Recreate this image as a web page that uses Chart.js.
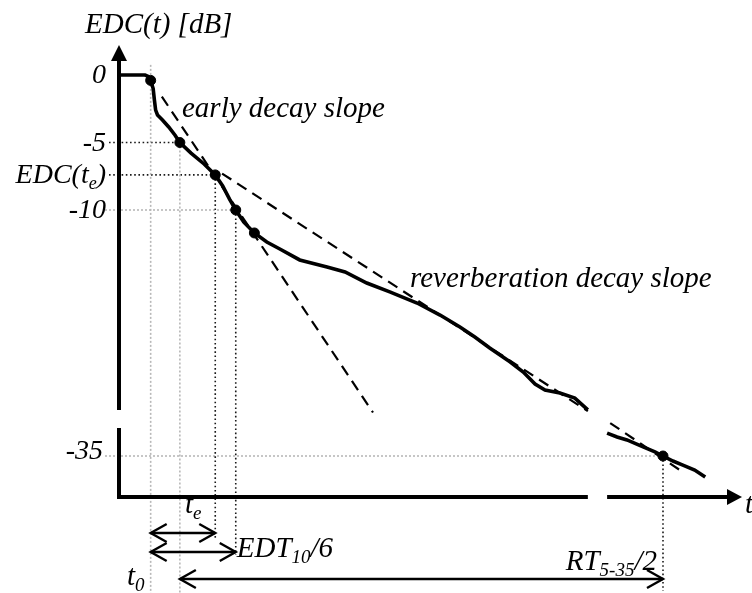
<!DOCTYPE html>
<html><head><meta charset="utf-8">
<script src="https://cdn.jsdelivr.net/npm/chart.js@4.4.1/dist/chart.umd.min.js"></script>
<style>html,body{margin:0;padding:0;background:#fff;overflow:hidden}canvas{display:block}</style>
</head><body>
<canvas id="c" width="752" height="593"></canvas>
<script>
// ---- data (time in ms, level in dB) ----
const t0 = 51, tMinus5 = 98, tE = 155, tEdt = 188, tMinus35 = 876;
const breakT = [755, 786];                       // hidden part of the time axis
const curveT  = [0, 42, 47, t0, 55, 57, 59, 62, 70, 80, 90, tMinus5, 116, 137, tE, 167, 178, tEdt, 201, 218, 238, 259, 291, 335, 364, 399, 436, 480, 517, 549, 573, 597, 630, 651, 670, 686, 710, 734, 755];
const curveDb = [0, 0, -0.1, -0.4, -1.0, -1.85, -2.6, -2.96, -3.33, -3.85, -4.44, -5, -5.78, -6.59, -7.4, -8.22, -9.19, -10, -10.9, -11.7, -12.37, -12.89, -13.7, -14.22, -14.59, -15.41, -16.07, -16.89, -17.78, -18.67, -19.41, -20.22, -21.26, -22.0, -22.89, -23.33, -23.56, -23.93, -24.81];
const tailT  = [786, 802, 818, 844, 863, tMinus35, 892, 908, 927, 944];
const tailDb = [-33.3, -33.59, -33.81, -34.33, -34.7, -35, -35.37, -35.67, -36.04, -36.56];
const earlyFitT  = [69, 409];
const earlyFitDb = [-1.6, -25.0];
const reverbFitT  = [166, 755];
const reverbFitDb = [-7.3, -24.9];
const reverbTailFitT  = [791, 908];
const reverbTailFitDb = [-32.56, -36.19];
const markT  = [t0, tMinus5, tE, tEdt, 218];
const markDb = [-0.4, -5, -7.4, -10, -11.7];
const tailMarkT  = [tMinus35];
const tailMarkDb = [-35];
const upperTicks = [0, -5, -7.4, -10];
const upperTickLabels = [[['0',0]], [['-5',0]], [['EDC(t',0],['e',1],[')',0]], [['-10',0]]];
const lowerTicks = [-35];
const lowerTickLabels = [[['-35',0]]];

const pts = (xs, ys) => xs.map((x, i) => ({x, y: ys[i]}));
const SERIF = '"Liberation Serif", "Times New Roman", serif';
const fnt = s => `italic ${s}px ${SERIF}`;

function drawRich(ctx, parts, x, y, size, align) {
  const sub = Math.round(size * 0.64);
  let w = 0;
  const ws = parts.map(p => { ctx.font = fnt(p[1] ? sub : size); const m = ctx.measureText(p[0]).width; w += m; return m; });
  let cx = align === 'right' ? x - w : align === 'center' ? x - w / 2 : x;
  parts.forEach((p, i) => {
    ctx.font = fnt(p[1] ? sub : size);
    ctx.fillText(p[0], cx, p[1] ? y + size * 0.2 : y);
    cx += ws[i];
  });
}

const DARK = '#1a1a1a', LIGHT = '#b8b8b8';

const decor = {
  id: 'decor',
  beforeDatasetsDraw(chart) {
    const ctx = chart.ctx, x = chart.scales.x, yU = chart.scales.y, yL = chart.scales.y2, ca = chart.chartArea;
    const seg = (x1, y1, x2, y2, col, dash) => {
      ctx.save(); ctx.strokeStyle = col; ctx.lineWidth = 1.6; ctx.setLineDash(dash);
      ctx.beginPath(); ctx.moveTo(x1, y1); ctx.lineTo(x2, y2); ctx.stroke(); ctx.restore();
    };
    const dk = [1.6, 2.6], lt = [2, 2];
    // horizontal guides
    seg(ca.left - 10, yU.getPixelForValue(-5), x.getPixelForValue(tMinus5), yU.getPixelForValue(-5), DARK, dk);
    seg(ca.left - 10, yU.getPixelForValue(-7.4), x.getPixelForValue(tE), yU.getPixelForValue(-7.4), DARK, dk);
    seg(ca.left - 14, yU.getPixelForValue(-10), x.getPixelForValue(tEdt), yU.getPixelForValue(-10), LIGHT, lt);
    seg(ca.left - 14, yL.getPixelForValue(-35), x.getPixelForValue(tMinus35), yL.getPixelForValue(-35), LIGHT, lt);
    // vertical guides
    const v = (t, yTop, yBot, col, dash) => { const px = x.getPixelForValue(t); seg(px, yTop, px, yBot, col, dash); };
    v(t0, yU.getPixelForValue(0.75), 593, LIGHT, lt);
    v(tMinus5, yU.getPixelForValue(-5), 593, LIGHT, lt);
    v(tE, yU.getPixelForValue(-7.4), ca.bottom + 42, DARK, dk);
    v(tEdt, yU.getPixelForValue(-10), ca.bottom + 58, DARK, dk);
    v(tMinus35, yL.getPixelForValue(-35), 591, DARK, dk);
  },
  afterDatasetsDraw(chart) {
    const ctx = chart.ctx, x = chart.scales.x, yU = chart.scales.y, yL = chart.scales.y2, ca = chart.chartArea;
    ctx.save();
    ctx.strokeStyle = '#000'; ctx.fillStyle = '#000'; ctx.lineWidth = 4;
    const line = (a, b, c, d) => { ctx.beginPath(); ctx.moveTo(a, b); ctx.lineTo(c, d); ctx.stroke(); };
    const L = ca.left, B = ca.bottom, T = ca.top;
    line(L, T + 12, L, yU.bottom - 10);
    line(L, yL.top + 8, L, B + 2);
    line(L - 2, B, x.getPixelForValue(breakT[0]), B);
    line(x.getPixelForValue(breakT[1]), B, ca.right - 10, B);
    ctx.beginPath(); ctx.moveTo(L, T); ctx.lineTo(L - 8, T + 16); ctx.lineTo(L + 8, T + 16); ctx.closePath(); ctx.fill();
    ctx.beginPath(); ctx.moveTo(ca.right + 2, B); ctx.lineTo(ca.right - 13, B - 8); ctx.lineTo(ca.right - 13, B + 8); ctx.closePath(); ctx.fill();

    // bottom double arrows
    ctx.lineWidth = 2.4;
    const head = (px, py, dir) => { ctx.beginPath(); ctx.moveTo(px + dir * 16, py - 9); ctx.lineTo(px, py); ctx.lineTo(px + dir * 16, py + 9); ctx.stroke(); };
    const arrow = (ta, tb, py) => {
      const a = x.getPixelForValue(ta), b = x.getPixelForValue(tb);
      line(a, py, b, py); head(a, py, 1); head(b, py, -1);
    };
    arrow(t0, tE, B + 36);
    arrow(t0, tEdt, B + 55);
    arrow(tMinus5, tMinus35, B + 82);

    // tick labels
    ctx.textBaseline = 'alphabetic';
    upperTicks.forEach((v, i) => drawRich(ctx, upperTickLabels[i], L - 13, yU.getPixelForValue(v) + 8, 28, 'right'));
    lowerTicks.forEach((v, i) => drawRich(ctx, lowerTickLabels[i], L - 16, yL.getPixelForValue(v) + 3, 28, 'right'));

    // titles and annotations
    drawRich(ctx, [['EDC(t) [dB]', 0]], L - 34, T - 12, 29, 'left');
    drawRich(ctx, [['t', 0]], ca.right + 5, B + 16, 29, 'left');
    drawRich(ctx, [['early decay slope', 0]], 182, 117, 29, 'left');
    drawRich(ctx, [['reverberation decay slope', 0]], 410, 287, 29, 'left');
    drawRich(ctx, [['t', 0], ['e', 1]], 185, B + 16, 29, 'left');
    drawRich(ctx, [['EDT', 0], ['10', 1], ['/6', 0]], x.getPixelForValue(tEdt) + 1, B + 60, 29, 'left');
    drawRich(ctx, [['t', 0], ['0', 1]], 127, B + 88, 29, 'left');
    drawRich(ctx, [['RT', 0], ['5-35', 1], ['/2', 0]], x.getPixelForValue(tMinus35) - 6, B + 73, 29, 'right');
    ctx.restore();
  }
};

new Chart(document.getElementById('c'), {
  type: 'line',
  data: {
    datasets: [
      { data: pts(curveT, curveDb), yAxisID: 'y', borderColor: '#000', borderWidth: 3.6, pointRadius: 0, tension: 0, clip: false },
      { data: pts(tailT, tailDb), yAxisID: 'y2', borderColor: '#000', borderWidth: 3.6, pointRadius: 0, tension: 0, clip: false },
      { data: pts(earlyFitT, earlyFitDb), yAxisID: 'y', borderColor: '#000', borderWidth: 2.2, borderDash: [11, 7], pointRadius: 0, clip: false },
      { data: pts(reverbFitT, reverbFitDb), yAxisID: 'y', borderColor: '#000', borderWidth: 2.2, borderDash: [11, 7], pointRadius: 0, clip: false },
      { data: pts(reverbTailFitT, reverbTailFitDb), yAxisID: 'y2', borderColor: '#000', borderWidth: 2.2, borderDash: [11, 7], pointRadius: 0, clip: false },
      { data: pts(markT, markDb), yAxisID: 'y', showLine: false, pointRadius: 5, pointBackgroundColor: '#000', pointBorderColor: '#000', clip: false },
      { data: pts(tailMarkT, tailMarkDb), yAxisID: 'y2', showLine: false, pointRadius: 5, pointBackgroundColor: '#000', pointBorderColor: '#000', clip: false }
    ]
  },
  options: {
    responsive: false, animation: false, devicePixelRatio: 1,
    layout: { padding: { left: 119, top: 45, right: 12, bottom: 96 } },
    plugins: { legend: { display: false }, tooltip: { enabled: false } },
    events: [],
    scales: {
      x: { type: 'linear', position: 'bottom', min: 0, max: 1000, display: false },
      y2: { type: 'linear', position: 'left', stack: 'db', stackWeight: 77, min: -35 - 41 / 13.5, max: -35 + 36 / 13.5, display: false },
      y: { type: 'linear', position: 'left', stack: 'db', stackWeight: 375, min: -345 / 13.5, max: 30 / 13.5, display: false }
    }
  },
  plugins: [decor]
});
</script>
</body></html>
